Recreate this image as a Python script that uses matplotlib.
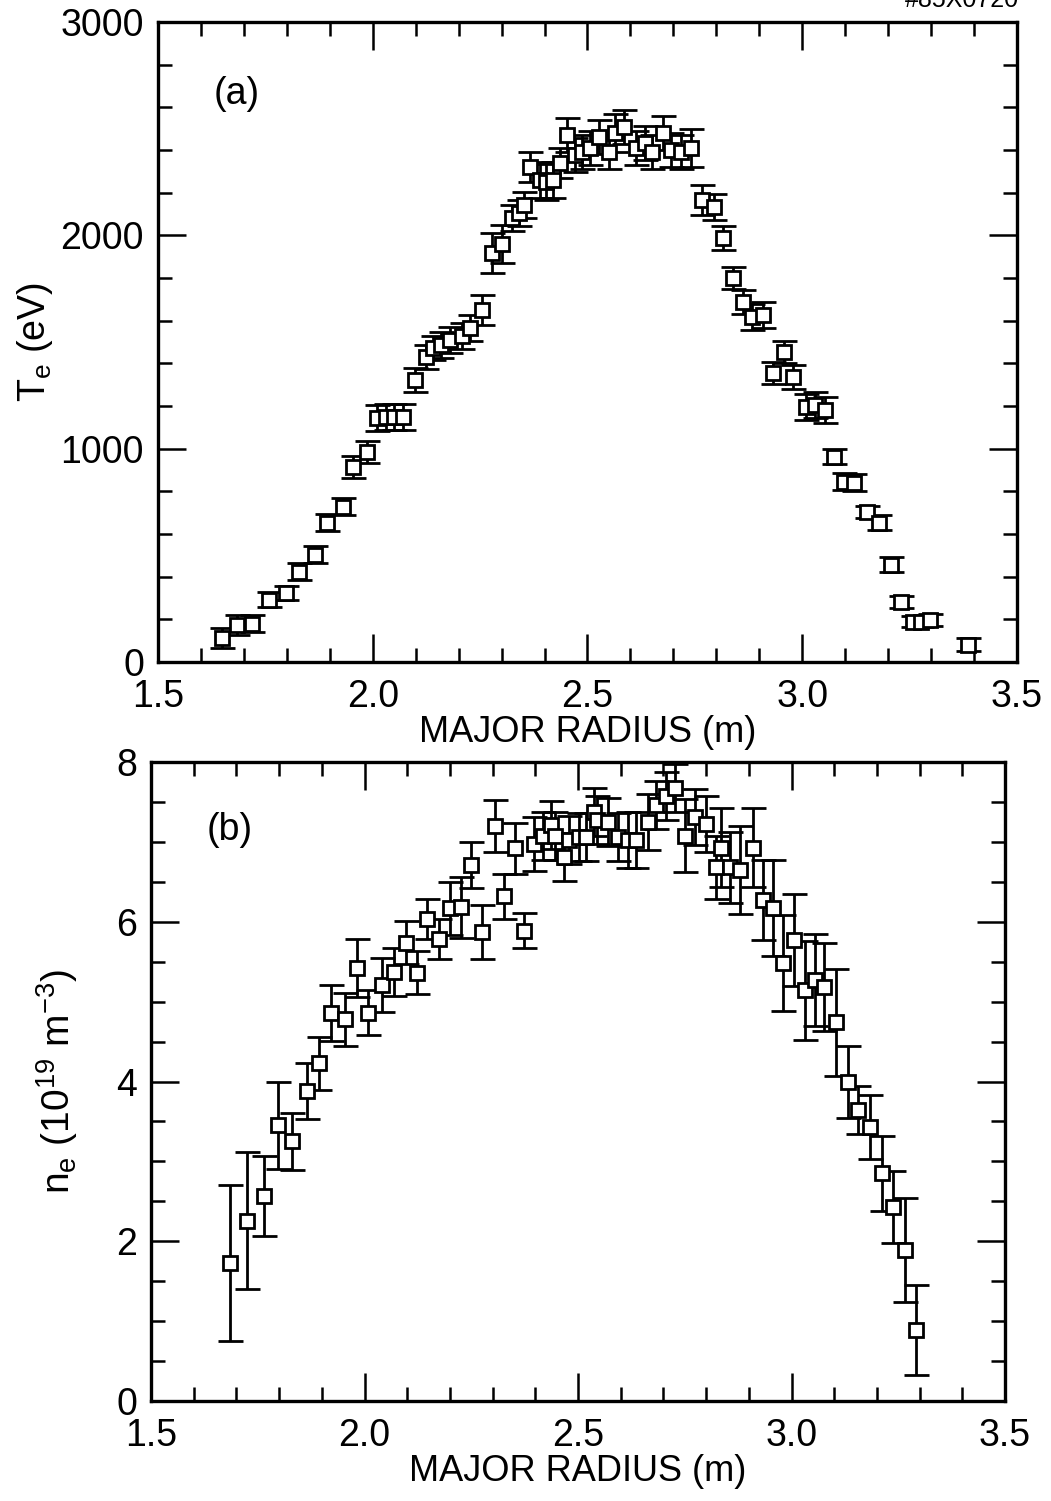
import numpy as np
import matplotlib
matplotlib.use('Agg')
import matplotlib.pyplot as plt
from matplotlib.ticker import MultipleLocator, FormatStrFormatter

plt.rcParams['font.family'] = ['Liberation Sans', 'DejaVu Sans']
plt.rcParams['mathtext.fontset'] = 'custom'
plt.rcParams['mathtext.rm'] = 'Liberation Sans'

# panel (a): electron temperature
rTe = [1.648, 1.683, 1.719, 1.759, 1.797, 1.829, 1.866, 1.894, 1.930, 1.954,
       1.987, 2.011, 2.030, 2.049, 2.070, 2.099, 2.123, 2.141, 2.158, 2.181,
       2.207, 2.227, 2.255, 2.278, 2.302, 2.325, 2.341, 2.353, 2.367, 2.390,
       2.404, 2.420, 2.437, 2.453, 2.470, 2.488, 2.507, 2.528, 2.551, 2.565,
       2.586, 2.612, 2.633, 2.651, 2.675, 2.694, 2.717, 2.740, 2.766, 2.794,
       2.815, 2.839, 2.861, 2.884, 2.908, 2.932, 2.958, 2.979, 3.010, 3.029,
       3.052, 3.075, 3.098, 3.121, 3.150, 3.178, 3.206, 3.229, 3.257, 3.276,
       3.297, 3.385]
Te = [112, 173, 178, 291, 323, 422, 502, 652, 727, 914,
      984, 1144, 1148, 1148, 1148, 1322, 1430, 1472, 1486, 1509,
      1528, 1566, 1650, 1917, 1960, 2081, 2105, 2142, 2320, 2259,
      2250, 2259, 2339, 2470, 2377, 2391, 2409, 2461, 2391, 2480,
      2508, 2409, 2433, 2391, 2480, 2400, 2391, 2409, 2166, 2133,
      1987, 1800, 1688, 1617, 1627, 1355, 1453, 1336, 1195, 1205,
      1181, 961, 844, 839, 703, 652, 455, 281, 188, 188,
      197, 80]
TeErr = [45, 45, 40, 35, 35, 40, 40, 40, 40, 50,
         50, 60, 60, 60, 60, 55, 55, 55, 60, 60,
         60, 60, 70, 95, 90, 60, 60, 60, 70, 85,
         85, 85, 70, 80, 80, 80, 80, 80, 80, 90,
         80, 80, 80, 80, 80, 80, 80, 90, 70, 60,
         55, 50, 55, 60, 60, 50, 50, 55, 60, 60,
         60, 35, 40, 40, 30, 35, 35, 30, 25, 25,
         30, 30]

# panel (b): electron density
rNe = [1.685, 1.725, 1.765, 1.797, 1.830, 1.865, 1.893, 1.922, 1.955, 1.983,
       2.009, 2.040, 2.068, 2.096, 2.122, 2.147, 2.175, 2.201, 2.225, 2.250,
       2.274, 2.306, 2.327, 2.353, 2.374, 2.397, 2.419, 2.436, 2.447, 2.467,
       2.479, 2.502, 2.518, 2.537, 2.545, 2.569, 2.593, 2.616, 2.635, 2.663,
       2.682, 2.705, 2.728, 2.750, 2.773, 2.799, 2.822, 2.834, 2.855, 2.879,
       2.909, 2.933, 2.956, 2.979, 3.005, 3.031, 3.054, 3.077, 3.103, 3.131,
       3.156, 3.184, 3.212, 3.238, 3.266, 3.292]
ne = [1.73, 2.26, 2.57, 3.45, 3.25, 3.88, 4.23, 4.86, 4.78, 5.42,
      4.86, 5.21, 5.37, 5.74, 5.36, 6.04, 5.79, 6.17, 6.18, 6.71,
      5.87, 7.20, 6.32, 6.92, 5.89, 6.97, 7.08, 7.21, 7.08, 6.81,
      7.02, 7.06, 7.06, 7.37, 7.27, 7.25, 7.06, 7.02, 7.02, 7.25,
      7.46, 7.58, 7.67, 7.08, 7.31, 7.23, 6.68, 6.93, 6.68, 6.65,
      6.93, 6.27, 6.17, 5.48, 5.77, 5.14, 5.27, 5.18, 4.74, 3.99,
      3.64, 3.43, 2.85, 2.43, 1.89, 0.89]
neErr = [0.98, 0.86, 0.50, 0.54, 0.36, 0.35, 0.33, 0.35, 0.33, 0.36,
         0.28, 0.34, 0.30, 0.27, 0.27, 0.25, 0.25, 0.33, 0.38, 0.29,
         0.34, 0.33, 0.28, 0.32, 0.22, 0.34, 0.30, 0.30, 0.30, 0.30,
         0.30, 0.30, 0.30, 0.30, 0.30, 0.30, 0.30, 0.35, 0.35, 0.35,
         0.30, 0.30, 0.30, 0.46, 0.35, 0.35, 0.40, 0.50, 0.45, 0.55,
         0.50, 0.50, 0.60, 0.60, 0.58, 0.62, 0.58, 0.55, 0.67, 0.45,
         0.30, 0.40, 0.47, 0.45, 0.65, 0.56]


def styleAxes(ax, ymax, ymajor, yminor):
    ax.set_xlim(1.5, 3.5)
    ax.set_ylim(0, ymax)
    ax.xaxis.set_major_locator(MultipleLocator(0.5))
    ax.xaxis.set_minor_locator(MultipleLocator(0.1))
    ax.yaxis.set_major_locator(MultipleLocator(ymajor))
    ax.yaxis.set_minor_locator(MultipleLocator(yminor))
    ax.xaxis.set_major_formatter(FormatStrFormatter('%.1f'))
    ax.tick_params(which='both', direction='in', top=True, right=True,
                   width=1.8, labelsize=27)
    ax.tick_params(axis='x', pad=12)
    ax.tick_params(axis='y', pad=10)
    ax.tick_params(which='major', length=20)
    ax.tick_params(which='minor', length=10)
    for s in ax.spines.values():
        s.set_linewidth(2.4)
    ax.set_xlabel('MAJOR RADIUS (m)', fontsize=26, labelpad=0)


fig = plt.figure(figsize=(10.51, 15.01), dpi=100)
ax1 = fig.add_axes([0.1503, 0.559, 0.8173, 0.4264])
ax2 = fig.add_axes([0.1437, 0.0666, 0.8126, 0.4257])

ebKw = dict(fmt='s', ms=10, mfc='white', mec='black', mew=2.0, ecolor='black',
            elinewidth=2.0, capsize=9, capthick=2.0)

ax1.errorbar(rTe, Te, yerr=TeErr, **ebKw)
styleAxes(ax1, 3000, 1000, 200)
ax1.set_ylabel(r'T$_\mathregular{e}$ (eV)', fontsize=27, labelpad=4)
ax1.text(1.63, 2660, '(a)', fontsize=27, va='center')

ax2.errorbar(rNe, ne, yerr=neErr, **ebKw)
styleAxes(ax2, 8, 2, 0.5)
ax2.set_ylabel(r'n$_\mathregular{e}$ (10$^\mathregular{19}$ m$^\mathregular{-3}$)',
               fontsize=28, labelpad=26)
ax2.text(1.63, 7.15, '(b)', fontsize=27, va='center')

fig.text(0.97, 1.0, '#85X0720', fontsize=18, ha='right', va='center')

fig.savefig('out.png', dpi=100)
